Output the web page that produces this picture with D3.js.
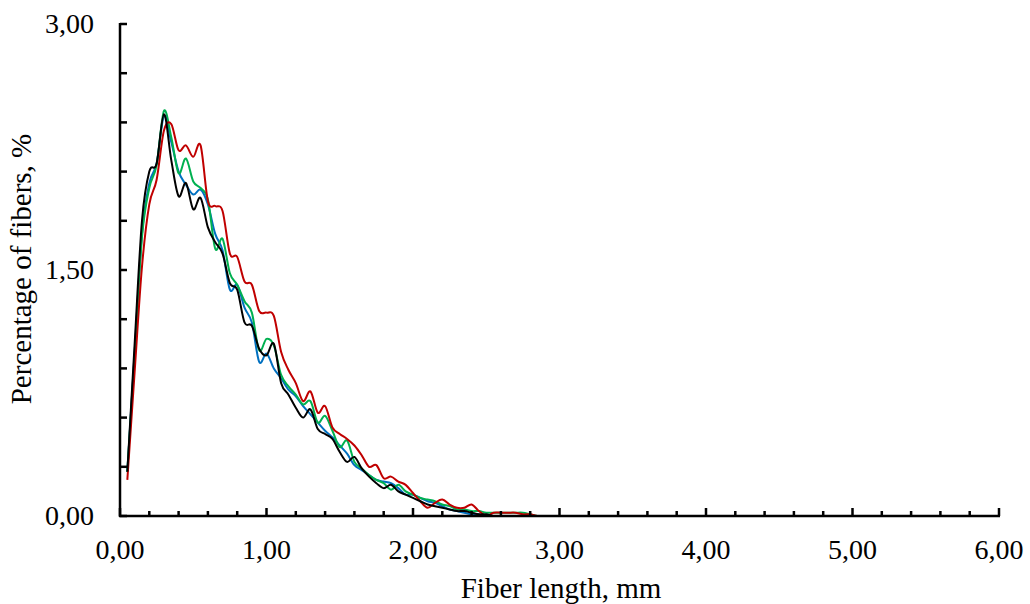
<!DOCTYPE html>
<html>
<head>
<meta charset="utf-8">
<script src="https://cdn.jsdelivr.net/npm/d3@7"></script>
<style>
  html, body { margin: 0; padding: 0; background: #fff; }
  svg { display: block; }
  text { font-family: "Liberation Serif", "Times New Roman", serif; fill: #000; }
</style>
</head>
<body>
<svg id="chart" width="1030" height="604"></svg>
<script>
// Fiber length (mm)
const lengths = [0.05,0.10,0.15,0.20,0.25,0.30,0.35,0.40,0.45,0.50,0.55,0.60,0.65,0.70,0.75,0.80,0.85,0.90,0.95,1.00,
                 1.05,1.10,1.15,1.20,1.25,1.30,1.35,1.40,1.45,1.50,1.55,1.60,1.65,1.70,1.75,1.80,1.85,1.90,1.95,2.00,
                 2.05,2.10,2.15,2.20,2.25,2.30,2.35,2.40,2.45,2.50,2.55,2.60,2.65,2.70,2.75,2.80,2.85,2.90,2.95,3.00];

// Percentage of fibers (%)
const blueSeries = [0.27,1.00,1.72,2.03,2.15,2.44,2.28,2.10,2.02,1.96,1.99,1.90,1.72,1.62,1.38,1.41,1.27,1.18,0.94,0.99,
                    0.90,0.84,0.77,0.73,0.67,0.62,0.57,0.52,0.48,0.43,0.38,0.31,0.28,0.25,0.22,0.21,0.20,0.17,0.13,0.13,
                    0.11,0.09,0.08,0.06,0.04,0.03,0.02,0.01,0.01,0.00,0.00,0.00,0.00,0.00,0.00,0.00,0.00,0.00,0.00,0.00];
const greenSeries = [0.27,0.98,1.70,2.00,2.14,2.47,2.31,2.09,2.18,2.04,2.00,1.93,1.63,1.69,1.48,1.41,1.31,1.24,1.01,1.08,
                     1.04,0.86,0.79,0.74,0.68,0.70,0.57,0.61,0.52,0.42,0.46,0.33,0.29,0.25,0.22,0.20,0.16,0.19,0.15,0.13,
                     0.11,0.10,0.09,0.07,0.06,0.04,0.04,0.03,0.03,0.02,0.02,0.02,0.02,0.02,0.02,0.01,0.00,0.00,0.00,0.00];
const redSeries = [0.22,0.88,1.52,1.90,2.05,2.35,2.39,2.23,2.26,2.19,2.26,1.92,1.89,1.86,1.60,1.58,1.43,1.41,1.25,1.24,
                   1.22,1.00,0.89,0.81,0.70,0.76,0.63,0.67,0.54,0.50,0.47,0.43,0.37,0.30,0.31,0.23,0.24,0.21,0.19,0.14,
                   0.09,0.05,0.08,0.10,0.07,0.05,0.05,0.07,0.03,0.00,0.02,0.02,0.02,0.02,0.01,0.01,0.00,0.00,0.00,0.00];
const blackSeries = [0.27,1.05,1.80,2.10,2.15,2.45,2.17,1.95,2.03,1.87,1.94,1.76,1.67,1.60,1.42,1.38,1.18,1.16,1.02,0.98,
                     1.05,0.81,0.74,0.66,0.60,0.65,0.53,0.50,0.47,0.39,0.33,0.36,0.29,0.24,0.20,0.17,0.19,0.15,0.13,0.11,
                     0.09,0.07,0.06,0.05,0.04,0.03,0.03,0.02,0.01,0.01,0.00,0.00,0.00,0.00,0.00,0.00,0.00,0.00,0.00,0.00];

const xTickValues = [0,1,2,3,4,5,6];
const xTickLabels = ["0,00","1,00","2,00","3,00","4,00","5,00","6,00"];
const yTickValues = [0,1.5,3];
const yTickLabels = ["0,00","1,50","3,00"];
const xMinorTicks = [0,0.2,0.4,0.6,0.8,1,1.2,1.4,1.6,1.8,2,2.2,2.4,2.6,2.8,3,3.2,3.4,3.6,3.8,4,4.2,4.4,4.6,4.8,5,5.2,5.4,5.6,5.8,6];
const yMinorTicks = [0,0.3,0.6,0.9,1.2,1.5,1.8,2.1,2.4,2.7,3];
const xTitle = "Fiber length, mm";
const yTitle = "Percentage of fibers, %";

const series = [
  {name: "blue", color: "#0070C0", values: blueSeries},
  {name: "green", color: "#00B050", values: greenSeries},
  {name: "red", color: "#C00000", values: redSeries},
  {name: "black", color: "#000000", values: blackSeries}
];

const svg = d3.select("#chart");
const mLeft = 120, mRight = 999, mTop = 24, mBottom = 516;
const x = d3.scaleLinear().domain([0, 6]).range([mLeft, mRight]);
const y = d3.scaleLinear().domain([0, 3]).range([mBottom, mTop]);
const tickFont = 28, titleFont = 29;

const line = d3.line()
  .x((d, i) => x(lengths[i]))
  .y(d => y(d))
  .curve(d3.curveCardinal.tension(0));

const plot = svg.append("g");
series.forEach(s => {
  plot.append("path")
    .datum(s.values)
    .attr("fill", "none")
    .attr("stroke", s.color)
    .attr("stroke-width", 2)
    .attr("stroke-linejoin", "round")
    .attr("d", line);
});

// Y axis
const yAxisG = svg.append("g").attr("transform", `translate(${mLeft},0)`);
yAxisG.append("line").attr("x1", 0).attr("x2", 0).attr("y1", y(3) - 1).attr("y2", y(0) + 1)
  .attr("stroke", "#000").attr("stroke-width", 2.5);
yAxisG.selectAll("line.tick").data(yMinorTicks).enter().append("line")
  .attr("class", "tick")
  .attr("x1", 0).attr("x2", 7)
  .attr("y1", d => y(d)).attr("y2", d => y(d))
  .attr("stroke", "#000").attr("stroke-width", 2.5);
yAxisG.selectAll("text").data(yTickValues).enter().append("text")
  .attr("x", -26).attr("y", d => y(d) + 9)
  .attr("text-anchor", "end")
  .attr("font-size", tickFont)
  .text((d, i) => yTickLabels[i]);

// X axis
const xAxisG = svg.append("g").attr("transform", `translate(0,${mBottom})`);
xAxisG.append("line").attr("x1", mLeft - 1).attr("x2", x(6) + 1).attr("y1", 0).attr("y2", 0)
  .attr("stroke", "#000").attr("stroke-width", 2.5);
xAxisG.selectAll("line.tick").data(xMinorTicks).enter().append("line")
  .attr("class", "tick")
  .attr("x1", d => x(d)).attr("x2", d => x(d))
  .attr("y1", 0).attr("y2", d => (Math.abs(d - Math.round(d)) < 1e-6 ? -8 : -5))
  .attr("stroke", "#000").attr("stroke-width", 2.5);
xAxisG.selectAll("text").data(xTickValues).enter().append("text")
  .attr("x", d => x(d)).attr("y", 43)
  .attr("text-anchor", "middle")
  .attr("font-size", tickFont)
  .text((d, i) => xTickLabels[i]);

// Titles
svg.append("text")
  .attr("x", 561).attr("y", 598)
  .attr("text-anchor", "middle")
  .attr("font-size", titleFont)
  .text(xTitle);
svg.append("text")
  .attr("transform", `translate(31,269) rotate(-90)`)
  .attr("text-anchor", "middle")
  .attr("font-size", titleFont)
  .text(yTitle);
</script>
</body>
</html>
